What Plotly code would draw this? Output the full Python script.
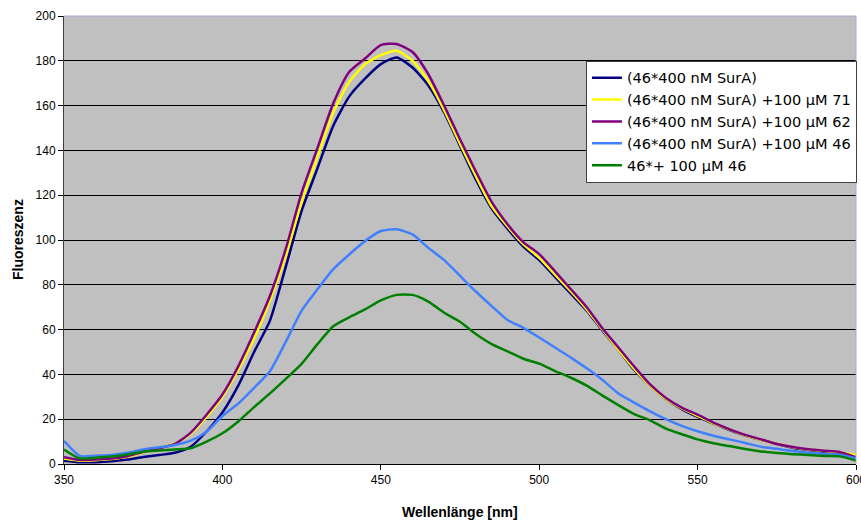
import plotly.graph_objects as go

# Emission wavelengths (nm)
wavelength = list(range(350, 601, 5))

# Fluorescence intensities per sample
surA = [1.5, 0.8, 0.8, 1.2, 2.0, 3.1, 4.0, 5.0, 7.7, 14.5,
        23, 35, 50, 64, 88, 113, 132, 151, 164, 172,
        178.5, 181.5, 177, 169, 157, 142, 127, 114, 105, 97,
        91, 83.5, 76, 68.5, 59.5, 51, 42, 35, 29, 24.5,
        21, 18, 15.2, 12.7, 10.8, 9, 7.3, 6.3, 5.5, 5, 3]
surA_71 = [2.5, 1.5, 1.7, 2.2, 3.2, 5.3, 7.2, 9.2, 13.5, 21,
           30, 42, 56, 73, 93, 117, 137, 157, 170.5, 178.5,
           182.5, 184.5, 180, 171, 158, 143, 128.5, 115, 106, 98,
           92, 84.5, 77, 69, 60, 51, 42.5, 35, 29, 24.8,
           21.5, 18.2, 15.5, 12.8, 10.8, 9, 7.5, 6.5, 5.8, 5.3, 4]
surA_62 = [3.0, 1.8, 2.0, 2.5, 3.5, 5.5, 7.0, 9.0, 14, 22,
           31, 43.6, 58.7, 75, 96, 121, 141, 161, 175, 181,
           187, 187.5, 183.9, 174, 160, 145, 130.6, 117, 107, 99,
           93.7, 86, 78, 70, 60.5, 52, 43.5, 35.5, 29.5, 25.2,
           22, 18.5, 15.6, 13, 11, 8.9, 7.6, 6.6, 5.9, 5.3, 3]
surA_46 = [10.3, 3.6, 3.7, 4.0, 5.0, 6.5, 7.5, 8.5, 10.4, 14.4,
           21.4, 27, 34, 41.4, 54.5, 68.5, 78, 87, 93.5, 99.5,
           104, 104.8, 102.5, 96.5, 91, 84, 77, 70.5, 64.3, 60.8,
           56.5, 52, 47.5, 42.7, 37.5, 31.5, 27.4, 23.5, 20, 17,
           14.6, 12.6, 11, 9.4, 7.7, 6.8, 5.8, 5, 4.5, 4.1, 2.5]
only_46 = [6.5, 2.5, 2.8, 3.3, 4.2, 5.5, 6.0, 6.5, 7.0, 10,
           13.7, 19, 25.4, 31.5, 38, 44.7, 53.5, 61.5, 65.5, 69,
           73, 75.5, 75.5, 72.5, 67.5, 63.5, 58, 53.5, 50.3, 47,
           44.8, 41.5, 38.5, 35, 30.5, 26.3, 22.3, 19.5, 15.8, 13.3,
           11, 9.3, 8, 6.7, 5.6, 4.9, 4.4, 4, 3.6, 3.4, 1.5]

series = [
    ("(46*400 nM SurA)", surA, "#000080"),
    ("(46*400 nM SurA) +100 µM 71", surA_71, "#FFFF00"),
    ("(46*400 nM SurA) +100 µM 62", surA_62, "#800080"),
    ("(46*400 nM SurA) +100 µM 46", surA_46, "#4080FF"),
    ("46*+ 100 µM 46", only_46, "#008000"),
]

y_ticks = list(range(0, 201, 20))
x_ticks = list(range(350, 601, 50))

fig = go.Figure()
for name, values, color in series:
    fig.add_trace(go.Scatter(
        x=wavelength, y=values, name=name, mode="lines",
        line=dict(color=color, width=2.5, shape="spline", smoothing=0.6),
    ))

fig.update_layout(
    width=861, height=522,
    margin=dict(l=64, r=5, t=16, b=58, autoexpand=False),
    paper_bgcolor="white",
    plot_bgcolor="#C0C0C0",
    font=dict(family="Liberation Sans, Arial, sans-serif", size=12, color="black"),
    showlegend=True,
    legend=dict(
        x=0.659, y=0.9, xanchor="left", yanchor="top",
        bgcolor="white", bordercolor="#404040", borderwidth=1,
        font=dict(family="DejaVu Sans, Verdana, sans-serif", size=14.5, color="black"),
        tracegroupgap=0,
    ),
    xaxis=dict(
        range=[350, 600], tickvals=x_ticks, ticktext=[str(v) for v in x_ticks],
        showgrid=False, zeroline=False, automargin=False,
        showline=True, linecolor="black", linewidth=1,
        ticks="outside", ticklen=5, tickcolor="black",
        ticklabeloverflow="allow",
    ),
    yaxis=dict(
        range=[0, 200], tickvals=y_ticks, ticktext=[str(v) for v in y_ticks],
        showgrid=True, gridcolor="black", gridwidth=1, zeroline=False,
        automargin=False,
        showline=True, linecolor="#404040", linewidth=1,
        ticks="outside", ticklen=5, tickcolor="black",
    ),
    annotations=[
        dict(text="<b>Wellenlänge [nm]</b>", xref="paper", yref="paper",
             x=0.5, y=0, yshift=-48, xanchor="center", yanchor="middle",
             showarrow=False, font=dict(size=14)),
        dict(text="<b>Fluoreszenz</b>", xref="paper", yref="paper",
             x=0, y=0.5, xshift=-46, xanchor="center", yanchor="middle",
             textangle=-90, showarrow=False, font=dict(size=14)),
    ],
    shapes=[
        dict(type="line", xref="paper", yref="paper", x0=0, x1=1, y0=1, y1=1,
             line=dict(color="#A8A8D8", width=1), layer="above"),
        dict(type="line", xref="paper", yref="paper", x0=1, x1=1, y0=0, y1=1,
             line=dict(color="#A8A8D8", width=1), layer="above"),
    ],
)

fig.write_html("out.html")
